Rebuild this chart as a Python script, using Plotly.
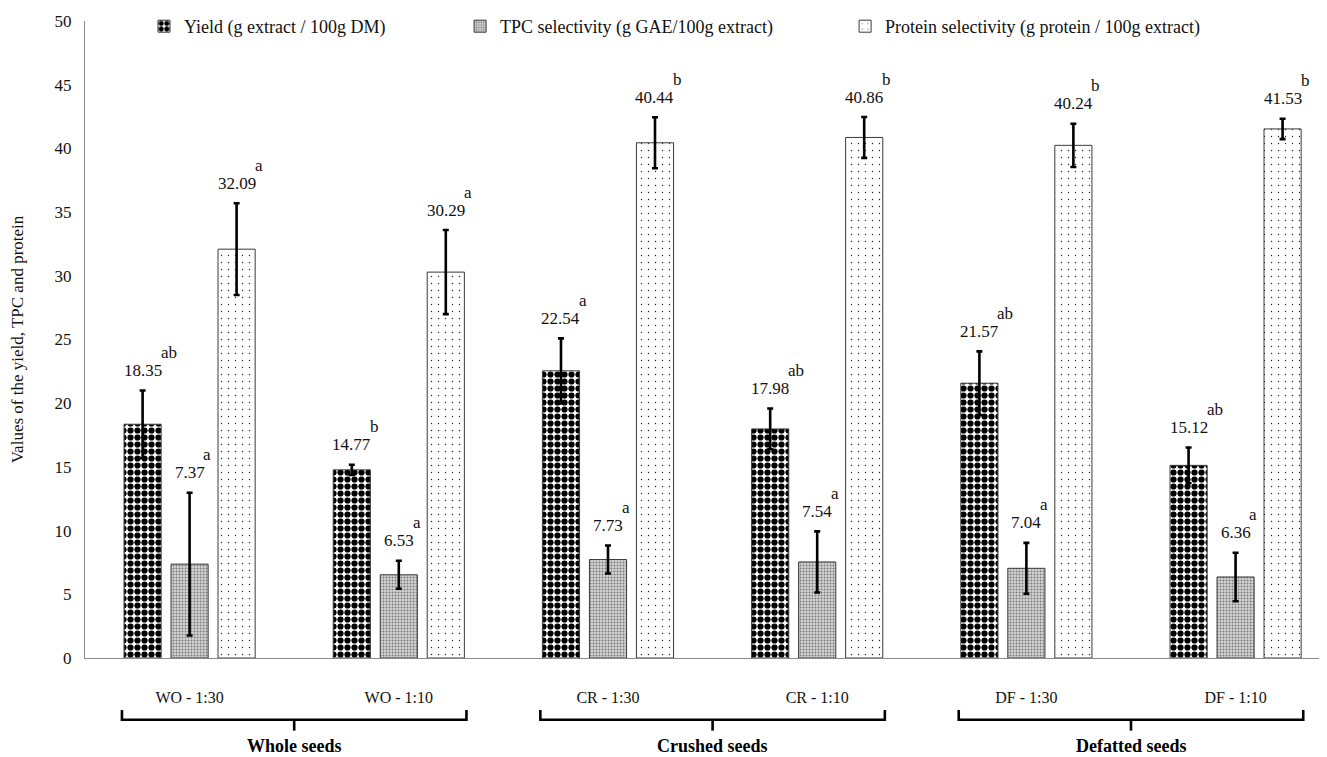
import plotly.graph_objects as go

categories = ["WO - 1:30", "WO - 1:10", "CR - 1:30", "CR - 1:10", "DF - 1:30", "DF - 1:10"]
groups = ["Whole seeds", "Crushed seeds", "Defatted seeds"]
series_names = [
    "Yield (g extract / 100g DM)",
    "TPC selectivity (g GAE/100g extract)",
    "Protein selectivity (g protein / 100g extract)",
]
yield_vals = [18.35, 14.77, 22.54, 17.98, 21.57, 15.12]
tpc_vals = [7.37, 6.53, 7.73, 7.54, 7.04, 6.36]
protein_vals = [32.09, 30.29, 40.44, 40.86, 40.24, 41.53]
yield_err = [2.65, 0.4, 2.55, 1.6, 2.5, 1.4]
tpc_err = [5.6, 1.1, 1.1, 2.4, 2.0, 1.9]
protein_err = [3.6, 3.3, 2.0, 1.6, 1.7, 0.8]
yield_letters = ["ab", "b", "a", "ab", "ab", "ab"]
tpc_letters = ["a", "a", "a", "a", "a", "a"]
protein_letters = ["a", "a", "b", "b", "b", "b"]

FONT = "Liberation Serif"
BARGAP = 0.326
GROUPGAP = 0.21

patterns = [
    dict(shape=".", fgcolor="black", bgcolor="white", size=7, solidity=0.62, fillmode="replace"),
    dict(shape=".", fgcolor="#7a7a7a", bgcolor="#d4d4d4", size=3, solidity=0.35, fillmode="replace"),
    dict(shape=".", fgcolor="#222222", bgcolor="white", size=7, solidity=0.03, fillmode="replace"),
]
values = [yield_vals, tpc_vals, protein_vals]
errors = [yield_err, tpc_err, protein_err]
letters = [yield_letters, tpc_letters, protein_letters]
legend_ids = ["legend", "legend2", "legend3"]

xs = list(range(len(categories)))
fig = go.Figure()
for k in range(3):
    fig.add_trace(go.Bar(
        x=xs, y=values[k], name=series_names[k],
        marker=dict(color="white", pattern=patterns[k], line=dict(color="#3a3a3a", width=1)),
        error_y=dict(type="data", array=errors[k], color="black", thickness=2.6, width=3),
        legend=legend_ids[k], showlegend=True,
    ))

slot = (1 - BARGAP) / 3
annotations = []
for k in range(3):
    for i in range(len(categories)):
        xc = i + (k - 1) * slot
        top = values[k][i] + errors[k][i]
        label = f"{values[k][i]:.2f}"
        annotations.append(dict(x=xc, y=top, xref="x", yref="y", text=label, showarrow=False,
                                yshift=20, font=dict(family=FONT, size=17, color="#111")))
        halfw = (len(label) - 1) * 8.5 / 2 + 2
        annotations.append(dict(x=xc, y=top, xref="x", yref="y", text=letters[k][i], showarrow=False,
                                xanchor="left", xshift=halfw - 3, yshift=38,
                                font=dict(family=FONT, size=17, color="#111")))

# group brackets and labels
half = 1.5 * slot - slot * GROUPGAP / 2
shapes = []
y_top, y_line, y_bot = -0.0815, -0.097, -0.114
for g in range(len(groups)):
    x0 = 2 * g - half - 0.01
    x1 = 2 * g + 1 + half + 0.01
    xm = 2 * g + 0.5
    shapes.append(dict(type="path", xref="x", yref="paper",
                       path=f"M{x0},{y_top} L{x0},{y_line} L{x1},{y_line} L{x1},{y_top}",
                       line=dict(color="black", width=2.6)))
    shapes.append(dict(type="line", xref="x", yref="paper", x0=xm, x1=xm, y0=y_line, y1=y_bot,
                       line=dict(color="black", width=2.6)))
    annotations.append(dict(x=xm, y=-0.138, xref="x", yref="paper", yanchor="middle",
                            text=f"<b>{groups[g]}</b>",
                            showarrow=False, font=dict(family=FONT, size=18, color="black")))

legend_common = dict(orientation="h", yanchor="middle", xanchor="left", bgcolor="rgba(0,0,0,0)",
                     font=dict(family=FONT, size=18, color="#111"), itemwidth=30)
LEG_Y = 0.991
fig.update_layout(
    width=1319, height=749,
    margin=dict(l=77, r=0, t=12, b=99),
    paper_bgcolor="white", plot_bgcolor="white",
    barmode="group", bargap=BARGAP, bargroupgap=GROUPGAP,
    showlegend=True,
    font=dict(family=FONT, size=17, color="#111"),
    legend=dict(x=0.0475, y=LEG_Y, **legend_common),
    legend2=dict(x=0.302, y=LEG_Y, **legend_common),
    legend3=dict(x=0.612, y=LEG_Y, **legend_common),
    xaxis=dict(tickmode="array", tickvals=xs, ticktext=categories, range=[-0.5, 5.437],
               showline=True, linecolor="#8a8a8a", linewidth=1, ticks="", showgrid=False,
               zeroline=False, ticklabelstandoff=25, tickfont=dict(family=FONT, size=16, color="#111")),
    yaxis=dict(range=[0, 50], dtick=5, showline=True, linecolor="#8a8a8a", linewidth=1, ticks="",
               showgrid=False, zeroline=False, ticklabelstandoff=9,
               tickfont=dict(family=FONT, size=17, color="#111"),
               title=dict(text="Values of the yield, TPC and protein", standoff=26,
                          font=dict(family=FONT, size=17, color="#111"))),
    annotations=annotations, shapes=shapes,
)
fig.write_html("out.html")
